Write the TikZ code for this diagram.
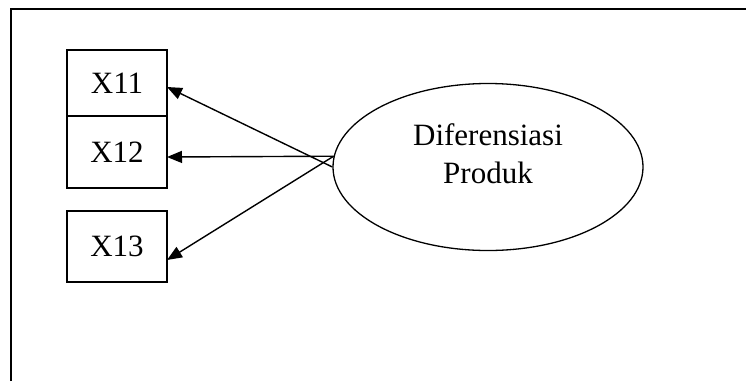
\documentclass[tikz,border=0pt]{standalone}
\usepackage{fontspec}
\setmainfont{Liberation Serif}
\usepackage{tikz}
\usetikzlibrary{arrows.meta,positioning,shapes.geometric}
\tikzstyle{indikator} = [draw, line width=1.3pt, minimum width=100pt, inner sep=0pt, outer sep=0pt]
\tikzstyle{laten} = [draw, ellipse, line width=1.3pt, minimum width=310pt, minimum height=167pt, inner sep=0pt]
\tikzstyle{link} = [line width=1.4pt,-{Triangle[length=15pt,width=12pt]}]

\begin{document}
\begin{tikzpicture}[x=1pt,y=-1pt,font=\fontsize{31}{38}\selectfont]
\useasboundingbox (0,0) rectangle (746,381);
\draw[line width=2pt] (11,381) -- (11,9) -- (746,9);

\node[indikator,minimum height=66pt] (x11) at (117,83) {X11};
\node[indikator,minimum height=72pt,below=0pt of x11] (x12) {X12};
\node[indikator,minimum height=71pt,below=23pt of x12] (x13) {X13};

\node[laten] (dp) at (488,167) {};
\node[align=center] (dptext) at ([yshift=13pt]dp.center) {Diferensiasi\\Produk};

\draw[link] (dp.west) -- ([yshift=-4pt]x11.east);
\draw[link] (dp.176) -- ([yshift=-5pt]x12.east);
\draw[link] (dp.176) -- ([yshift=-13.5pt]x13.east);
\end{tikzpicture}
\end{document}
